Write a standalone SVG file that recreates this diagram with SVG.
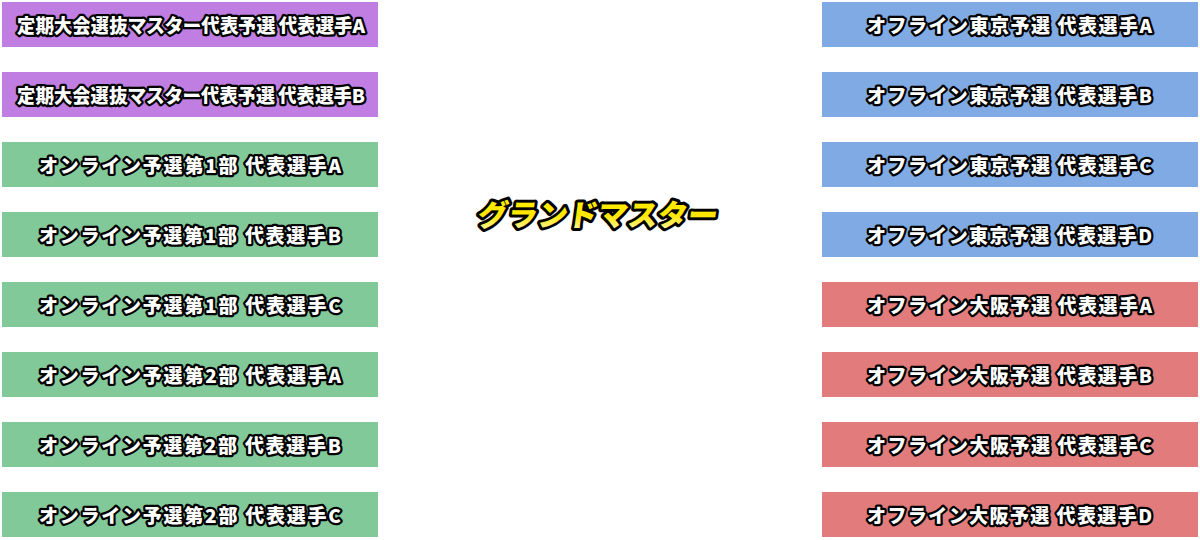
<svg xmlns="http://www.w3.org/2000/svg" width="1200" height="540" viewBox="0 0 1200 540">
<defs>
<linearGradient id="gold" x1="0" y1="0" x2="0" y2="1">
<stop offset="0" stop-color="#fff200"/>
<stop offset="0.55" stop-color="#ffe600"/>
<stop offset="1" stop-color="#fffbd0"/>
</linearGradient>
</defs>
<style>
.box{stroke:none}
.p{fill:#c07ee2}
.g{fill:#82c99a}
.b{fill:#7faae3}
.r{fill:#e27c7c}
.t{font-family:"Noto Sans CJK JP","Noto Sans",sans-serif;font-weight:900;font-size:19px;fill:#fff;stroke:#000;stroke-width:4.5;stroke-linejoin:round;paint-order:stroke;text-anchor:middle}
.title{font-family:"Noto Sans CJK JP","Noto Sans",sans-serif;font-weight:900;font-size:30px;fill:url(#gold);stroke:#000;stroke-width:6;stroke-linejoin:round;paint-order:stroke;text-anchor:middle}
</style>
<rect width="1200" height="540" fill="#fff"/>
<g id="connectors"></g>
<g id="L1"><rect class="box p" x="2" y="2" width="376" height="45"/><text class="t" x="191" y="32.5" textLength="348">定期大会選抜マスター代表予選 代表選手A</text></g>
<g id="L2"><rect class="box p" x="2" y="72" width="376" height="45"/><text class="t" x="191" y="102.5" textLength="348">定期大会選抜マスター代表予選 代表選手B</text></g>
<g id="L3"><rect class="box g" x="2" y="142" width="376" height="45"/><text class="t" x="190" y="172.5" textLength="302">オンライン予選第1部 代表選手A</text></g>
<g id="L4"><rect class="box g" x="2" y="212" width="376" height="45"/><text class="t" x="190" y="242.5" textLength="302">オンライン予選第1部 代表選手B</text></g>
<g id="L5"><rect class="box g" x="2" y="282" width="376" height="45"/><text class="t" x="190" y="312.5" textLength="302">オンライン予選第1部 代表選手C</text></g>
<g id="L6"><rect class="box g" x="2" y="352" width="376" height="45"/><text class="t" x="190" y="382.5" textLength="302">オンライン予選第2部 代表選手A</text></g>
<g id="L7"><rect class="box g" x="2" y="422" width="376" height="45"/><text class="t" x="190" y="452.5" textLength="302">オンライン予選第2部 代表選手B</text></g>
<g id="L8"><rect class="box g" x="2" y="492" width="376" height="45"/><text class="t" x="190" y="522.5" textLength="302">オンライン予選第2部 代表選手C</text></g>
<g id="R1"><rect class="box b" x="822" y="2" width="376" height="45"/><text class="t" x="1009.5" y="32.5" textLength="285">オフライン東京予選 代表選手A</text></g>
<g id="R2"><rect class="box b" x="822" y="72" width="376" height="45"/><text class="t" x="1009.5" y="102.5" textLength="285">オフライン東京予選 代表選手B</text></g>
<g id="R3"><rect class="box b" x="822" y="142" width="376" height="45"/><text class="t" x="1009.5" y="172.5" textLength="285">オフライン東京予選 代表選手C</text></g>
<g id="R4"><rect class="box b" x="822" y="212" width="376" height="45"/><text class="t" x="1009.5" y="242.5" textLength="285">オフライン東京予選 代表選手D</text></g>
<g id="R5"><rect class="box r" x="822" y="282" width="376" height="45"/><text class="t" x="1009.5" y="312.5" textLength="285">オフライン大阪予選 代表選手A</text></g>
<g id="R6"><rect class="box r" x="822" y="352" width="376" height="45"/><text class="t" x="1009.5" y="382.5" textLength="285">オフライン大阪予選 代表選手B</text></g>
<g id="R7"><rect class="box r" x="822" y="422" width="376" height="45"/><text class="t" x="1009.5" y="452.5" textLength="285">オフライン大阪予選 代表選手C</text></g>
<g id="R8"><rect class="box r" x="822" y="492" width="376" height="45"/><text class="t" x="1009.5" y="522.5" textLength="285">オフライン大阪予選 代表選手D</text></g>
<g id="center"><text class="title" x="598" y="226" transform="skewX(-8)" transform-origin="598 215">グランドマスター</text></g>
</svg>
